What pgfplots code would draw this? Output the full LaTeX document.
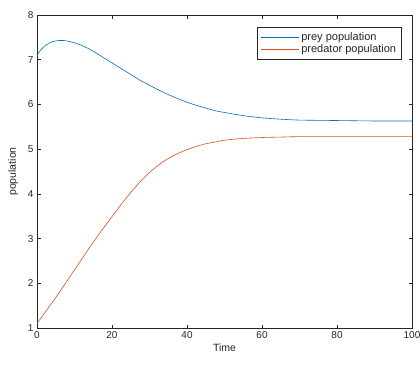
\documentclass[border=0pt]{standalone}
\usepackage{pgfplots}
\pgfplotsset{compat=1.18}
\usepackage{fontspec}
\setmainfont{Liberation Sans}
\definecolor{mblue}{rgb}{0,0.447,0.741}
\definecolor{morange}{rgb}{0.85,0.325,0.098}
\definecolor{axgray}{rgb}{0.15,0.15,0.15}
\begin{document}
\begin{tikzpicture}
\begin{axis}[
  scale only axis,
  width=375pt, height=313pt,
  xmin=0, xmax=100, ymin=1, ymax=8,
  xtick={0,20,40,60,80,100},
  ytick={1,2,3,4,5,6,7,8},
  tick align=inside,
  major tick length=3.5pt,
  axis line style={axgray, line width=0.6pt},
  every tick/.style={axgray, line width=0.5pt},
  tick label style={font=\fontsize{10}{12}\selectfont, text=axgray},
  /pgf/number format/assume math mode=true,
  xlabel={Time}, ylabel={population},
  label style={font=\fontsize{10.5}{12}\selectfont, text=axgray},
  xlabel style={yshift=2pt},
  ylabel style={yshift=3pt},
  legend style={at={(0.973,0.962)}, anchor=north east, draw=axgray, line width=0.5pt,
    font=\fontsize{11}{12}\selectfont, text=axgray, inner xsep=3.5pt, inner ysep=3pt, row sep=-1pt},
  legend cell align=left,
  legend image code/.code={\draw[#1, line width=0.6pt] (0pt,0pt) -- (38pt,0pt);},
]
\addplot[mblue, line width=0.6pt, smooth] coordinates {
(0,7.10) (1,7.22) (2,7.30) (3,7.36) (4,7.40) (5,7.42) (6,7.43) (7,7.43) (8,7.42) (10,7.38) (12.5,7.30) (15,7.19) (17.5,7.06) (20,6.93) (22.5,6.80) (25,6.67) (27.5,6.54) (30,6.43) (32.5,6.32) (35,6.22) (37.5,6.13) (40,6.05) (42.5,5.98) (45,5.92) (47.5,5.86) (50,5.82) (55,5.75) (60,5.70) (65,5.67) (70,5.65) (80,5.64) (90,5.63) (100,5.63)};
\addlegendentry{prey population}
\addplot[morange, line width=0.6pt, smooth] coordinates {
(0,1.10) (2.5,1.39) (5,1.68) (7.5,1.99) (10,2.30) (12.5,2.61) (15,2.92) (17.5,3.21) (20,3.49) (22.5,3.77) (25,4.03) (27.5,4.27) (30,4.48) (32.5,4.65) (35,4.79) (37.5,4.90) (40,4.99) (42.5,5.06) (45,5.12) (47.5,5.16) (50,5.20) (55,5.24) (60,5.26) (65,5.27) (70,5.28) (80,5.28) (100,5.28)};
\addlegendentry{predator population}
\end{axis}
\pgfresetboundingbox
\path[use as bounding box] (-37pt,-41pt) rectangle (383pt,328pt);
\end{tikzpicture}
\end{document}
